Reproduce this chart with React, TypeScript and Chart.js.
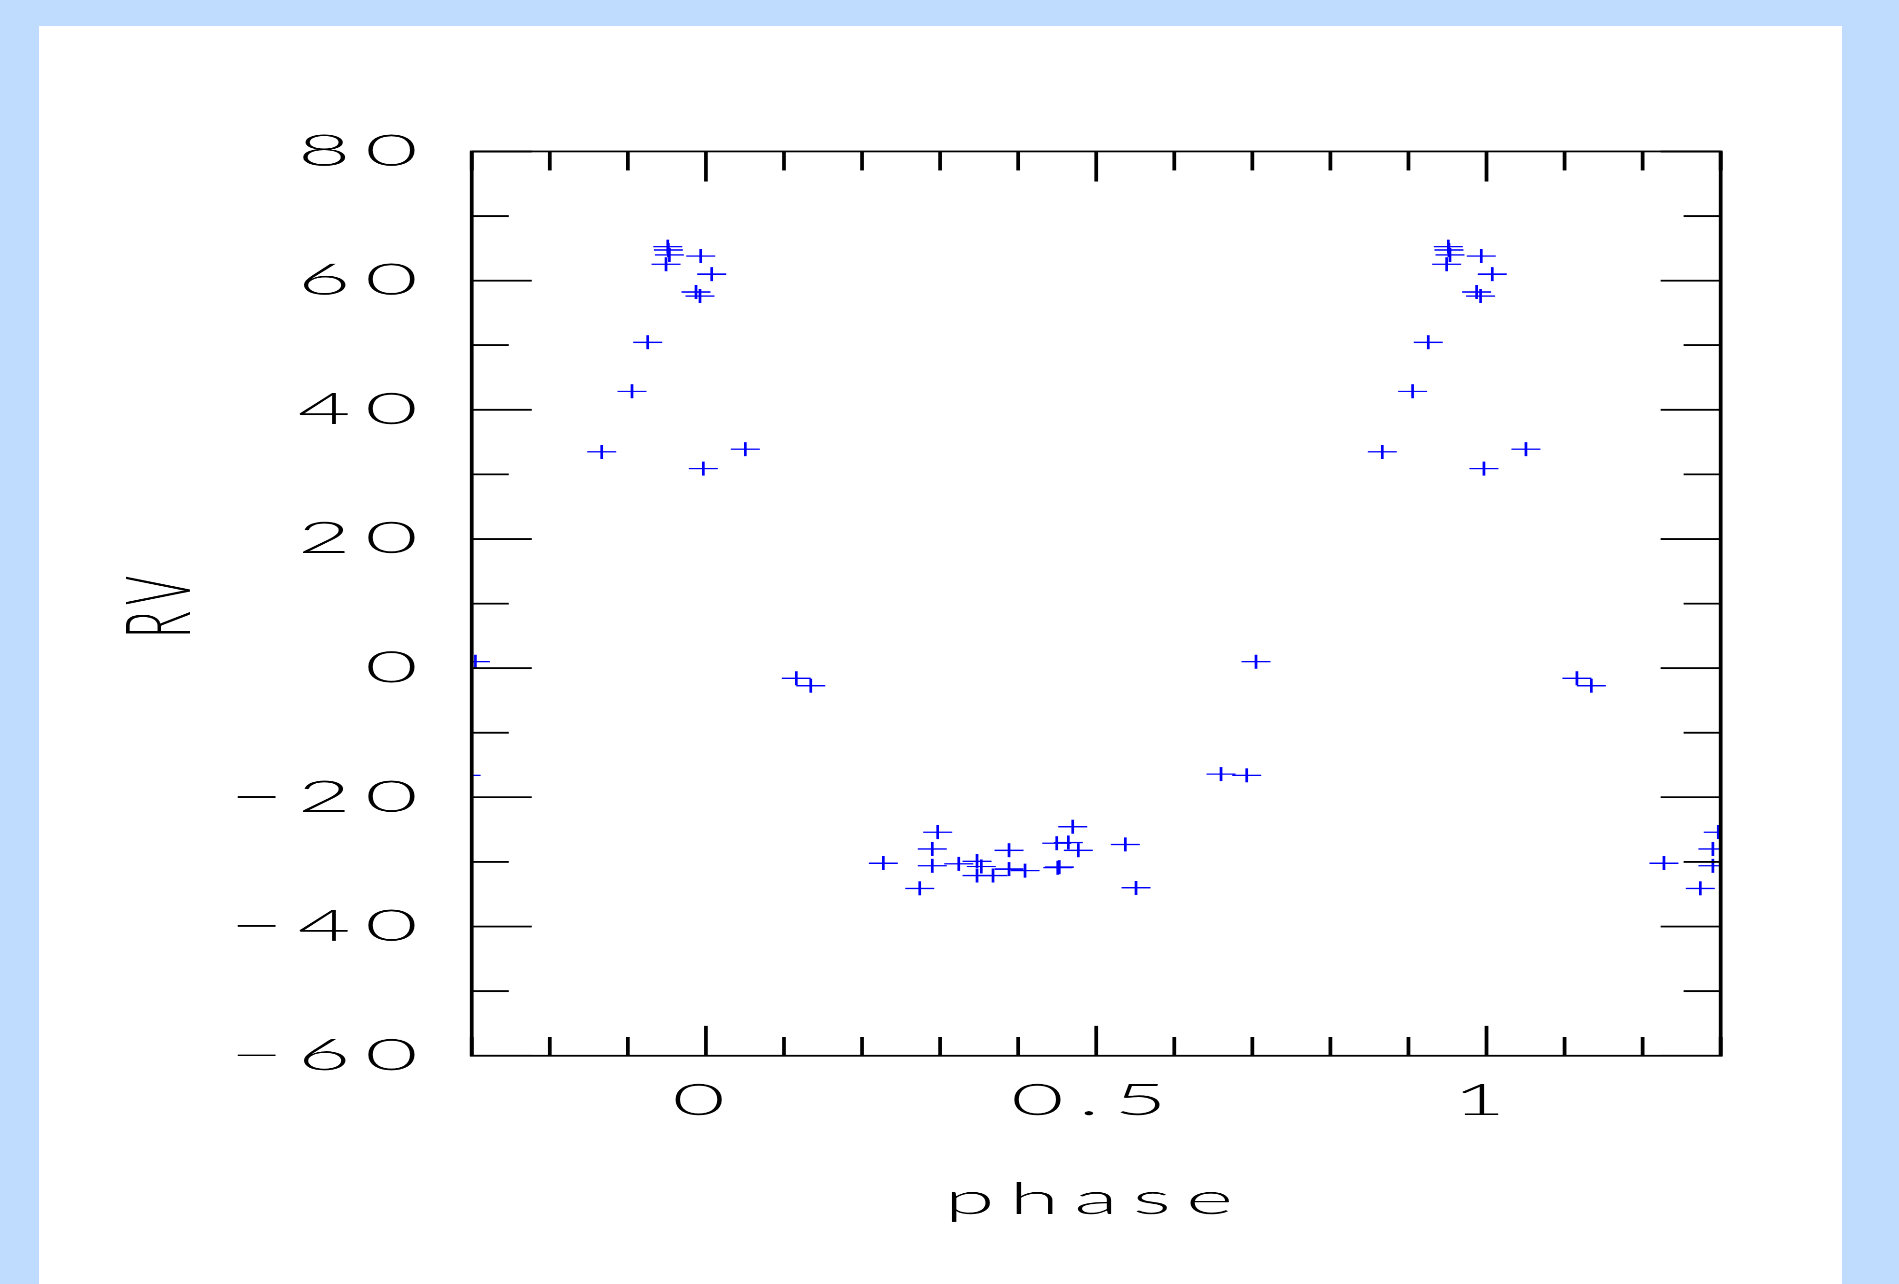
import React, { useEffect, useRef } from 'react';
import { Chart, registerables } from 'chart.js';

Chart.register(...registerables);

// ---- data (phase folded into [0,1)) ----
const basePhase = [
  0.9511, 0.9519, 0.9532, 0.9489, 0.9933, 0.0074, 0.9873, 0.9924, 0.9254, 0.9053,
  0.8665, 0.9967, 0.0505, 0.1158, 0.1343, 0.2273, 0.2969, 0.2900, 0.2900, 0.2739,
  0.3239, 0.3473, 0.3528, 0.3473, 0.3678, 0.3883, 0.3883, 0.4088, 0.4494, 0.4643,
  0.4699, 0.4771, 0.4507, 0.4527, 0.5373, 0.5510, 0.6599, 0.6928, 0.7047,
];
const baseRV = [
  65.25, 64.74, 63.97, 62.53, 63.8, 61.0, 58.24, 57.6, 50.45, 42.86,
  33.5, 30.9, 33.9, -1.57, -2.72, -30.2, -25.4, -28.0, -30.6, -34.1,
  -30.3, -29.9, -30.7, -32.1, -32.1, -28.2, -31.1, -31.35, -27.1, -27.0,
  -24.55, -28.2, -30.9, -30.8, -27.3, -34.0, -16.4, -16.6, 1.0,
];
const cycleShifts = [-1, 0, 1];

const xMin = -0.3;
const xMax = 1.3;
const xStep = 0.1;
const xLabelStep = 0.5;
const yMin = -60;
const yMax = 80;
const yStep = 10;
const yLabelStep = 20;
const xTitle = 'phase';
const yTitle = 'RV';

// ---- layout (canvas units; canvas is stretched horizontally) ----
const PAGE_W = 1899;
const PAGE_H = 1284;
const CANVAS_W = 917;
const STRETCH = PAGE_W / CANVAS_W;
const FONT = 'Lato, "DejaVu Sans", sans-serif';
const FONT_SIZE = 44;
const LETTER_SPACING = 7;

const isMultiple = (v: number, step: number) =>
  Math.abs(v / step - Math.round(v / step)) < 1e-6;

const fmtNum = (v: number) => {
  const r = Math.round(v * 10) / 10;
  return r < 0 ? '\u2212' + String(Math.abs(r)) : String(r);
};

const letterSpacingPlugin = {
  id: 'letterSpacing',
  beforeDraw(chart: any) {
    try {
      chart.ctx.letterSpacing = `${LETTER_SPACING}px`;
    } catch (e) {
      /* ignore */
    }
  },
};

const innerTicks = {
  id: 'innerTicks',
  afterDatasetsDraw(chart: any) {
    const { ctx, chartArea: a, scales } = chart;
    ctx.save();
    ctx.strokeStyle = '#000';
    ctx.lineWidth = 1.8;
    ctx.lineCap = 'butt';
    ctx.beginPath();
    const xs = scales.x;
    xs.ticks.forEach((t: any) => {
      const p = xs.getPixelForValue(t.value);
      const len = isMultiple(t.value, xLabelStep) ? 30 : 19;
      ctx.moveTo(p, a.bottom);
      ctx.lineTo(p, a.bottom - len);
      ctx.moveTo(p, a.top);
      ctx.lineTo(p, a.top + len);
    });
    const ys = scales.y;
    ys.ticks.forEach((t: any) => {
      const p = ys.getPixelForValue(t.value);
      const len = isMultiple(t.value, yLabelStep) ? 29 : 17.9;
      ctx.moveTo(a.left, p);
      ctx.lineTo(a.left + len, p);
      ctx.moveTo(a.right, p);
      ctx.lineTo(a.right - len, p);
    });
    ctx.stroke();
    ctx.strokeRect(a.left, a.top, a.right - a.left, a.bottom - a.top);
    ctx.restore();
  },
};

export default function App() {
  const canvasRef = useRef<HTMLCanvasElement | null>(null);

  useEffect(() => {
    const canvas = canvasRef.current;
    if (!canvas) return;
    const points: { x: number; y: number }[] = [];
    cycleShifts.forEach((s) => {
      basePhase.forEach((p, i) => {
        points.push({ x: p + s, y: baseRV[i] });
      });
    });

    const font = { family: FONT, size: FONT_SIZE, lineHeight: 1, weight: 300 as any };

    const chart = new Chart(canvas, {
      type: 'scatter',
      data: {
        datasets: [
          {
            data: points,
            pointStyle: 'cross',
            pointRadius: 7,
            pointBorderWidth: 1.3,
            borderColor: 'rgb(0,0,255)',
            backgroundColor: 'rgb(0,0,255)',
            showLine: false,
            clip: 0,
          } as any,
        ],
      },
      options: {
        animation: false,
        responsive: false,
        devicePixelRatio: STRETCH,
        events: [],
        layout: { padding: { left: 0, top: 151.4, right: CANVAS_W - 830.9, bottom: 0 } },
        plugins: {
          legend: { display: false },
          tooltip: { enabled: false },
        },
        scales: {
          x: {
            type: 'linear',
            position: 'bottom',
            min: xMin,
            max: xMax,
            grid: { display: false, drawTicks: false },
            border: { display: false },
            ticks: {
              stepSize: xStep,
              autoSkip: false,
              maxRotation: 0,
              minRotation: 0,
              padding: 23,
              color: '#000',
              font,
              callback: (v: any) => (isMultiple(Number(v), xLabelStep) ? fmtNum(Number(v)) : ''),
            },
            title: {
              display: true,
              text: xTitle,
              color: '#000',
              font,
              padding: { top: 0, bottom: 62 },
            },
            afterFit: (s: any) => {
              s.height = PAGE_H - 1055.7;
            },
          },
          y: {
            type: 'linear',
            position: 'left',
            min: yMin,
            max: yMax,
            grid: { display: false, drawTicks: false },
            border: { display: false },
            ticks: {
              stepSize: yStep,
              autoSkip: false,
              padding: 19,
              color: '#000',
              font,
              callback: (v: any) => (isMultiple(Number(v), yLabelStep) ? fmtNum(Number(v)) : ''),
            },
            title: {
              display: true,
              text: yTitle,
              color: '#000',
              font,
              padding: { top: 55.5, bottom: 0 },
            },
            afterFit: (s: any) => {
              s.width = 227.8;
            },
          },
        },
      },
      plugins: [letterSpacingPlugin, innerTicks],
    });
    return () => chart.destroy();
  }, []);

  return (
    <div
      style={{
        position: 'absolute',
        left: 0,
        top: 0,
        width: PAGE_W,
        height: PAGE_H,
        background: 'rgb(191,219,254)',
        overflow: 'hidden',
      }}
    >
      <div
        style={{
          position: 'absolute',
          left: 39,
          top: 26,
          width: 1842 - 39,
          height: PAGE_H - 26,
          background: '#fff',
        }}
      />
      <div
        style={{
          position: 'absolute',
          left: 0,
          top: 0,
          transform: `scaleX(${STRETCH})`,
          transformOrigin: '0 0',
        }}
      >
        <canvas ref={canvasRef} width={CANVAS_W} height={PAGE_H} />
      </div>
    </div>
  );
}
